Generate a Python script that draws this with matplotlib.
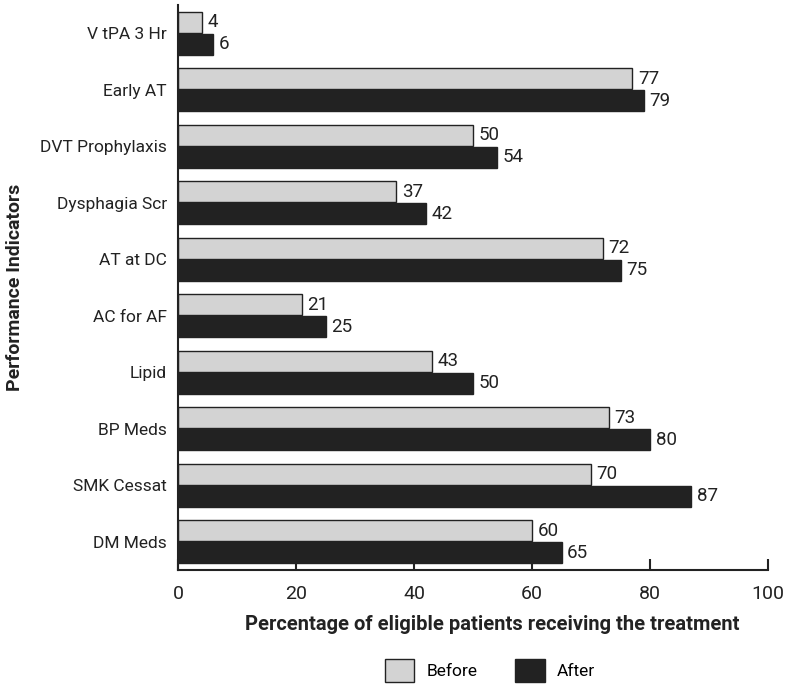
import numpy as np
import matplotlib.pyplot as plt

plt.rcParams['font.family'] = ['Roboto', 'DejaVu Sans']

indicators = ["V tPA 3 Hr", "Early AT", "DVT Prophylaxis", "Dysphagia Scr", "AT at DC",
              "AC for AF", "Lipid", "BP Meds", "SMK Cessat", "DM Meds"]
before = [4, 77, 50, 37, 72, 21, 43, 73, 70, 60]
after = [6, 79, 54, 42, 75, 25, 50, 80, 87, 65]

fig = plt.figure(figsize=(7.89, 6.87), dpi=100)
ax = fig.add_axes([0.2256, 0.1703, 0.7478, 0.8224])

y = np.arange(len(indicators))
h = 0.37
off = 0.195
b1 = ax.barh(y - off, before, height=h, color="#d3d3d3", edgecolor="#222222", linewidth=1, label="Before")
b2 = ax.barh(y + off, after, height=h, color="#222222", edgecolor="#222222", linewidth=1, label="After")

for bars in (b1, b2):
    for b in bars:
        w = b.get_width()
        ax.annotate(f"{w:g}", (w, b.get_y() + b.get_height() / 2), xytext=(4, 0),
                    textcoords="offset points", ha="left", va="center", fontsize=13.5, color="#222222")

ax.set_yticks(y)
ax.set_yticklabels(indicators, fontsize=12.5, color="#222222")
ax.set_ylim(len(indicators) - 0.5, -0.5)
ax.set_xlim(0, 100)
ax.set_xticks([0, 20, 40, 60, 80, 100])
ax.tick_params(axis="x", direction="in", length=8, width=1.5, labelsize=14, pad=11,
               color="#222222", labelcolor="#222222")
ax.tick_params(axis="y", length=0, pad=8)
for s in ("top", "right"):
    ax.spines[s].set_visible(False)
for s in ("left", "bottom"):
    ax.spines[s].set_linewidth(1.5)
    ax.spines[s].set_color("#222222")

ax.set_xlabel("Percentage of eligible patients receiving the treatment", fontsize=14.5,
              fontweight="bold", va="center", color="#222222")
ax.xaxis.set_label_coords(0.532, -0.097)
ax.set_ylabel("Performance Indicators", fontsize=14, fontweight="bold", va="center", color="#222222")
ax.yaxis.set_label_coords(-0.276, 0.5)

fig.legend(handles=[b1, b2], loc="lower center", bbox_to_anchor=(0.621, -0.015), ncol=2,
           frameon=False, fontsize=12.5, handlelength=1.7, handleheight=1.6,
           columnspacing=2.2, handletextpad=0.7)

fig.savefig("out.png", dpi=100)
